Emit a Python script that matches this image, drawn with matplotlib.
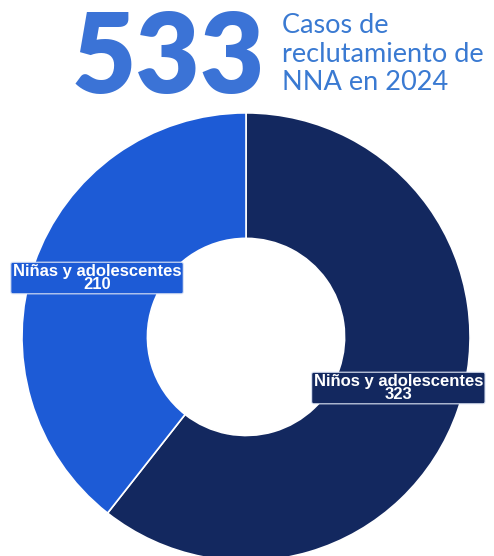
import matplotlib.pyplot as plt

# recruitment cases by group, 2024
groups = ['Niños y adolescentes', 'Niñas y adolescentes']
cases = [323, 210]
colors = ['#13285f', '#1d5bd6']
caption = ['Casos de', 'reclutamiento de', 'NNA en 2024']
total = sum(cases)

W, H = 494, 556
fig = plt.figure(figsize=(W / 100, H / 100), dpi=100)
fig.patch.set_facecolor('white')

# headline number and caption (positions in pixels from the top-left)
fig.text(72 / W, 1 - 93 / H, str(total), fontsize=80, fontweight='heavy', family=['Lato', 'DejaVu Sans'],
         color='#3b73d6', ha='left', va='baseline')
for line, base in zip(caption, [33, 62, 90]):
    fig.text(282 / W, 1 - base / H, line, fontsize=19.5, family=['Lato', 'DejaVu Sans'],
             color='#3a7ad2', ha='left', va='baseline')

ax = fig.add_axes([0.0445, -0.009, 0.907, 0.806])
wedges, _ = ax.pie(cases, colors=colors, startangle=90, counterclock=False, radius=1,
                   wedgeprops=dict(width=0.56, edgecolor='white', linewidth=1.2))
ax.set_xlim(-1, 1)
ax.set_ylim(-1, 1)
ax.set_aspect('equal')
ax.axis('off')

label_pos = [(0.68, -0.228), (-0.665, 0.263)]
for name, val, col, (x, y) in zip(groups, cases, colors, label_pos):
    ax.text(x, y, '{}\n{}'.format(name, val), ha='center', va='center', color='white',
            fontsize=12, fontweight='bold', family=['Liberation Sans', 'DejaVu Sans'],
            linespacing=0.8,
            bbox=dict(boxstyle='round,pad=0.12', facecolor=col, edgecolor='#dfe6f5', linewidth=0.8))

fig.savefig('out.png', dpi=100, facecolor='white')
